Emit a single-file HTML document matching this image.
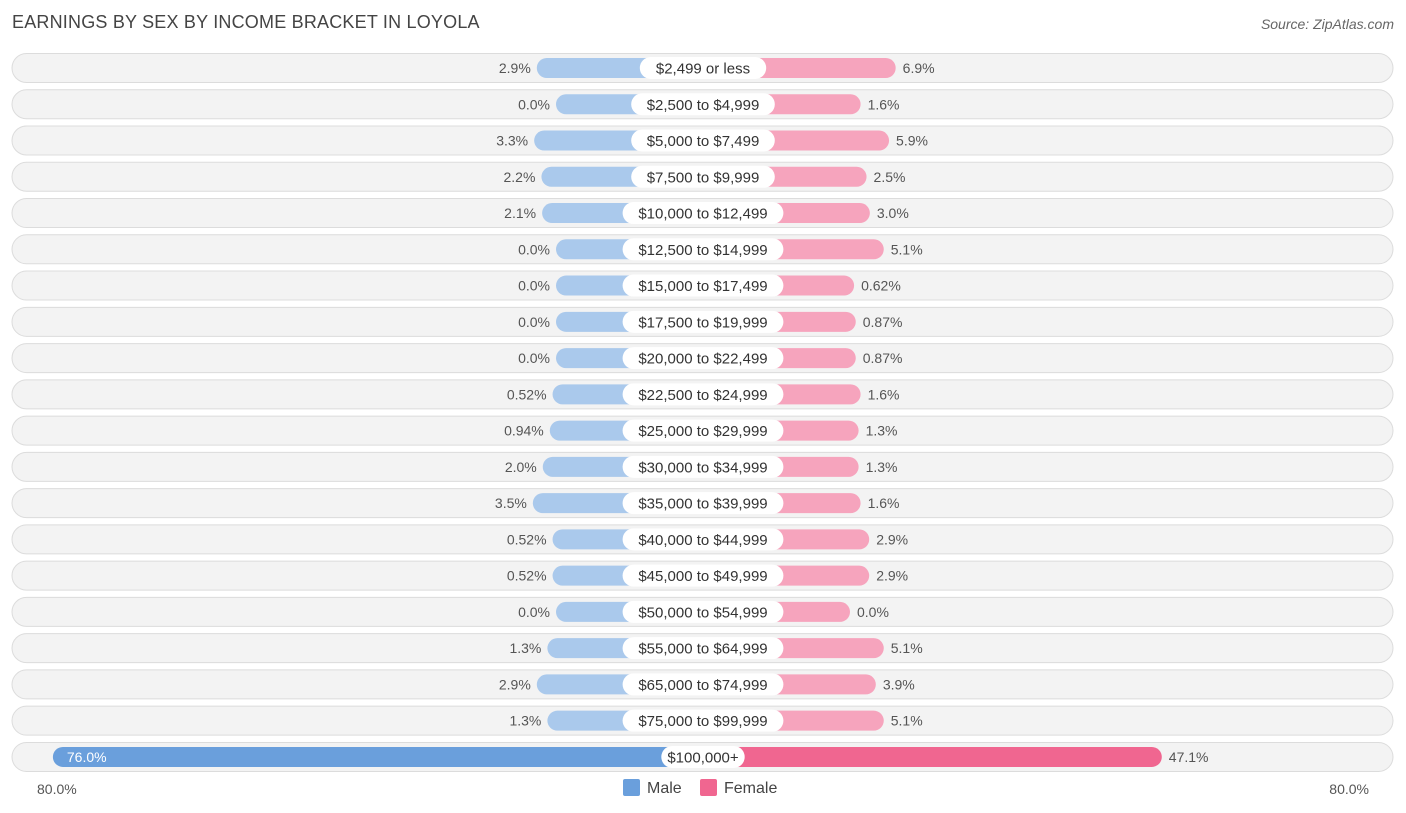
<!DOCTYPE html>
<html><head><meta charset="utf-8"><style>
body{margin:0;width:1406px;height:813px;background:#fff;font-family:"Liberation Sans",sans-serif;position:relative;overflow:hidden}
.t{position:absolute;white-space:nowrap}
</style></head><body>
<div class="t" style="left:12px;top:12px;font-size:18px;color:#444;letter-spacing:0.2px">EARNINGS BY SEX BY INCOME BRACKET IN LOYOLA</div>
<div class="t" style="right:12px;top:16px;font-size:14px;color:#666;font-style:italic">Source: ZipAtlas.com</div>
<svg id="c" width="1406" height="813" style="position:absolute;left:0;top:0"></svg>
<div class="t" style="left:37px;top:781px;font-size:14px;color:#555">80.0%</div>
<div class="t" style="right:37px;top:781px;font-size:14px;color:#555">80.0%</div>
<div class="t" style="left:623px;top:779px;font-size:16px;color:#444"><span style="display:inline-block;width:17px;height:17px;background:#6a9fdc;border-radius:2px;vertical-align:-3px;margin-right:7px"></span>Male</div>
<div class="t" style="left:700px;top:779px;font-size:16px;color:#444"><span style="display:inline-block;width:17px;height:17px;background:#f06690;border-radius:2px;vertical-align:-3px;margin-right:7px"></span>Female</div>
<script>
const categories=["$2,499 or less","$2,500 to $4,999","$5,000 to $7,499","$7,500 to $9,999","$10,000 to $12,499","$12,500 to $14,999","$15,000 to $17,499","$17,500 to $19,999","$20,000 to $22,499","$22,500 to $24,999","$25,000 to $29,999","$30,000 to $34,999","$35,000 to $39,999","$40,000 to $44,999","$45,000 to $49,999","$50,000 to $54,999","$55,000 to $64,999","$65,000 to $74,999","$75,000 to $99,999","$100,000+"];
const male=[2.9,0.0,3.3,2.2,2.1,0.0,0.0,0.0,0.0,0.52,0.94,2.0,3.5,0.52,0.52,0.0,1.3,2.9,1.3,76.0];
const female=[6.9,1.6,5.9,2.5,3.0,5.1,0.62,0.87,0.87,1.6,1.3,1.3,1.6,2.9,2.9,0.0,5.1,3.9,5.1,47.1];
const maleLabels=["2.9%","0.0%","3.3%","2.2%","2.1%","0.0%","0.0%","0.0%","0.0%","0.52%","0.94%","2.0%","3.5%","0.52%","0.52%","0.0%","1.3%","2.9%","1.3%","76.0%"];
const femaleLabels=["6.9%","1.6%","5.9%","2.5%","3.0%","5.1%","0.62%","0.87%","0.87%","1.6%","1.3%","1.3%","1.6%","2.9%","2.9%","0.0%","5.1%","3.9%","5.1%","47.1%"];
const svg=document.getElementById('c');const NS='http://www.w3.org/2000/svg';
const cx=703,base=147,k=6.62;
function len(v){return base+v*k;}
function rowY(i){return 68+i*36.26;}
function mk(t,a,p){const e=document.createElementNS(NS,t);for(const q in a)e.setAttribute(q,a[q]);(p||svg).appendChild(e);return e;}
categories.forEach((c,i)=>{
 const y=rowY(i);const last=i===categories.length-1;
 const g=mk('g',{});
 
 
 const bg=mk('rect',{x:12,y:y-14.5,width:1381,height:29,rx:14.5,fill:'#f3f3f3',stroke:'#dcdcdc','stroke-width':1},g);
 
 
 const lm=len(male[i]);
 const mb=mk('rect',{x:cx-lm,y:y-10,width:lm,height:20,rx:10,fill:last?'#6a9fdc':'#aac9ec'},g);
 
 
 const lf=len(female[i]);
 const fb=mk('rect',{x:cx,y:y-10,width:lf,height:20,rx:10,fill:last?'#f06690':'#f6a4bd'},g);
 
 
 const w=c.length*8.6+6;
 const lb=mk('rect',{x:cx-w/2,y:y-11,width:w,height:22,rx:11,fill:'#fff'},g);
 
 
 const ct=mk('text',{x:cx,y:y+5.5,'text-anchor':'middle','font-size':15,fill:'#333'},g);ct.textContent=c;
 
 
 let mt;
 if(last){mt=mk('text',{x:cx-lm+14,y:y+5,'font-size':14,fill:'#fff'},g);}
 else{mt=mk('text',{x:cx-lm-6,y:y+5,'text-anchor':'end','font-size':14,fill:'#555'},g);}
 mt.textContent=maleLabels[i];
 
 
 const ft=mk('text',{x:cx+lf+7,y:y+5,'font-size':14,fill:'#555'},g);ft.textContent=femaleLabels[i];
 
 
});
</script>
</body></html>
